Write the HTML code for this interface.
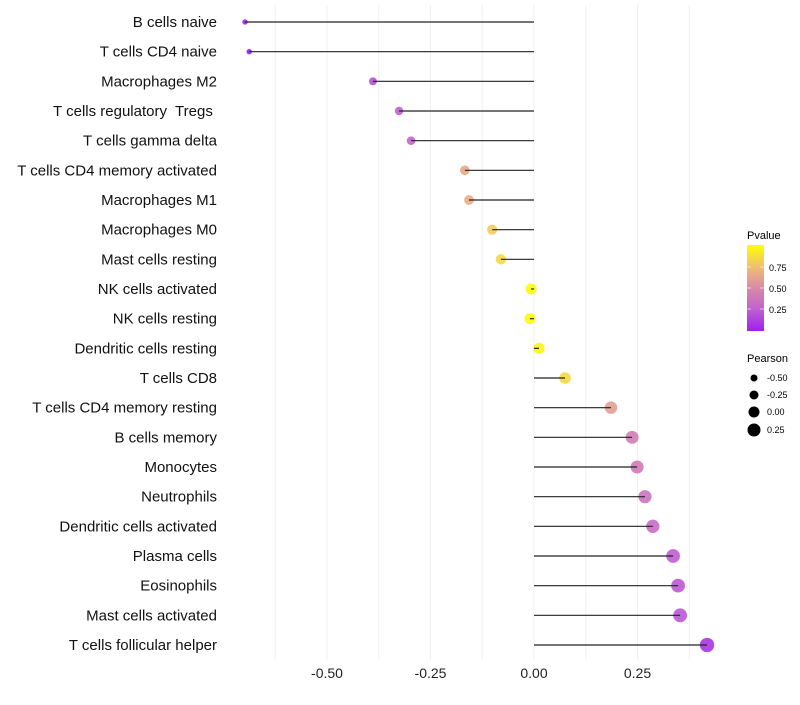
<!DOCTYPE html>
<html><head><meta charset="utf-8"><style>
body{margin:0;background:#fff;}
svg{font-family:"Liberation Sans",sans-serif;}
</style></head><body>
<svg id="c" width="800" height="700">
<defs><linearGradient id="pg" x1="0" y1="1" x2="0" y2="0">
<stop offset="0" stop-color="#a020f0"/><stop offset="0.25" stop-color="#c060d0"/>
<stop offset="0.5" stop-color="#d98aa8"/><stop offset="0.75" stop-color="#f0c070"/>
<stop offset="1" stop-color="#ffff00"/></linearGradient></defs>
<g id="grid"></g><g id="points"></g><g id="marks"></g><g id="labels"></g><g id="axis"></g>
<g>
<text x="747" y="239" font-size="11">Pvalue</text>
<rect x="747" y="245" width="17" height="86" fill="url(#pg)"/>
<g stroke="#fff" stroke-width="1" opacity="0.6"><line x1="747" x2="751" y1="267" y2="267"/><line x1="760" x2="764" y1="267" y2="267"/><line x1="747" x2="751" y1="288" y2="288"/><line x1="760" x2="764" y1="288" y2="288"/><line x1="747" x2="751" y1="309" y2="309"/><line x1="760" x2="764" y1="309" y2="309"/></g>
<text x="769" y="271" font-size="9">0.75</text><text x="769" y="292" font-size="9">0.50</text><text x="769" y="313" font-size="9">0.25</text>
</g>
<g>
<text x="747" y="362" font-size="11">Pearson</text>
<circle cx="754" cy="378" r="3.5"/><text x="767" y="381" font-size="9">-0.50</text>
<circle cx="754" cy="395" r="4.5"/><text x="767" y="398" font-size="9">-0.25</text>
<circle cx="754" cy="412" r="5.5"/><text x="767" y="415" font-size="9">0.00</text>
<circle cx="754" cy="430" r="6.5"/><text x="767" y="433" font-size="9">0.25</text>
</g>
</svg>
<script>
const categories=["B cells naive","T cells CD4 naive","Macrophages M2","T cells regulatory  Tregs ","T cells gamma delta","T cells CD4 memory activated","Macrophages M1","Macrophages M0","Mast cells resting","NK cells activated","NK cells resting","Dendritic cells resting","T cells CD8","T cells CD4 memory resting","B cells memory","Monocytes","Neutrophils","Dendritic cells activated","Plasma cells","Eosinophils","Mast cells activated","T cells follicular helper"];
const pearson=[-0.698,-0.688,-0.389,-0.326,-0.297,-0.167,-0.157,-0.101,-0.080,-0.007,-0.010,0.012,0.075,0.186,0.237,0.249,0.268,0.287,0.336,0.348,0.353,0.418];
const pvalue=[0.0,0.0,0.18,0.25,0.28,0.65,0.66,0.8,0.85,0.99,0.99,0.97,0.85,0.6,0.42,0.4,0.36,0.32,0.24,0.22,0.21,0.08];
const tickValues=[-0.5,-0.25,0,0.25];
const tickLabels=["-0.50","-0.25","0.00","0.25"];
const NS="http://www.w3.org/2000/svg";
const x=v=>534+v*414;
const y0=22,y1=645;
const y=i=>y0+i*(y1-y0)/(categories.length-1);
const r=v=>Math.max(1.8,5.5+4*v);
const stops=[[0,[160,32,240]],[0.25,[192,96,208]],[0.5,[217,138,168]],[0.75,[240,192,112]],[1,[255,255,0]]];
function col(p){for(let k=1;k<stops.length;k++){if(p<=stops[k][0]){const a=stops[k-1],b=stops[k],t=(p-a[0])/(b[0]-a[0]);return "rgb("+a[1].map((c,j)=>Math.round(c+(b[1][j]-c)*t)).join(",")+")";}}return "rgb(255,255,0)";}
function mk(tag,at,parent){const e=document.createElementNS(NS,tag);for(const k in at)e.setAttribute(k,at[k]);document.getElementById(parent).appendChild(e);return e;}
for(let g=-0.625;g<=0.45;g+=0.125){const l=mk("line",{x1:x(g),x2:x(g),y1:5,y2:660,stroke:"#f0f0f0","stroke-width":1},"grid");

}
categories.forEach((c,i)=>{
const p=mk("circle",{cx:x(pearson[i]),cy:y(i),r:r(pearson[i]),fill:col(pvalue[i]),"fill-opacity":0.9},"points");


const ln=mk("line",{x1:x(0),x2:x(pearson[i]),y1:y(i),y2:y(i),stroke:"#222","stroke-width":1.2},"marks");


const t=mk("text",{x:217,y:y(i)+5,"text-anchor":"end","font-size":15,fill:"#111"},"labels");
t.textContent=c;
t.setAttribute('xml:space','preserve');
t.style.whiteSpace='pre';


});
tickValues.forEach((v,i)=>{const t=mk("text",{x:x(v),y:678,"text-anchor":"middle","font-size":14,fill:"#222"},"axis");
t.textContent=tickLabels[i];

});
</script>
</body></html>
